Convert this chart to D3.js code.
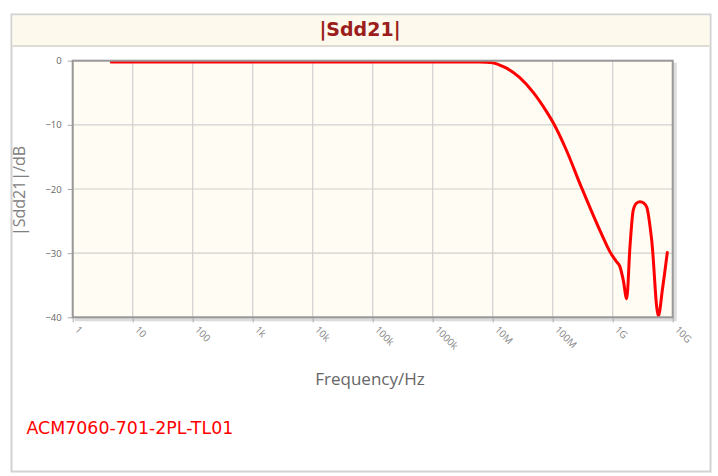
<!DOCTYPE html>
<html><head><meta charset="utf-8">
<script src="https://cdn.jsdelivr.net/npm/d3@7"></script>
<style>
html,body{margin:0;padding:0;background:#fff;}
svg{display:block;}
</style></head>
<body>
<svg id="chart" width="718" height="476"></svg>
<script>
// ---- data ----
const freqHz = [4.4, 10, 100, 1e3, 1e4, 1e5, 1e6, 3e6, 6e6, 1e7, 1.25e7, 1.7e7, 2.8e7, 4.7e7, 7.85e7, 1.01e8,
  1.7e8, 2.85e8, 4.5e8, 6.5e8, 9e8, 1.15e9, 1.32e9, 1.5e9, 1.71e9, 1.94e9, 2.2e9, 2.5e9, 2.85e9, 3.3e9,
  3.69e9, 4.47e9, 5.75e9, 6.8e9, 8.13e9];
const sdd21dB = [-0.2, -0.2, -0.2, -0.2, -0.2, -0.2, -0.2, -0.2, -0.22, -0.33, -0.6, -1.15, -2.6, -4.9, -7.9, -9.6,
  -14.0, -19.2, -23.6, -27.0, -29.8, -31.3, -32.1, -34.2, -37.1, -29, -23.3, -22.2, -22, -22.2,
  -22.8, -28, -39.8, -35.4, -29.9];
const xTickValues = [1, 10, 100, 1e3, 1e4, 1e5, 1e6, 1e7, 1e8, 1e9, 1e10];
const xTickLabels = ["1", "10", "100", "1k", "10k", "100k", "1000k", "10M", "100M", "1G", "10G"];
const yTickValues = [0, -10, -20, -30, -40];
const chartTitle = "|Sdd21|";
const xTitle = "Frequency/Hz";
const yTitle = "|Sdd21|/dB";
const seriesName = "ACM7060-701-2PL-TL01";

// ---- layout ----
const svg = d3.select("#chart");
const L = 72.7, R = 672.7, T = 60.7, B = 317.3;

// outer panel
svg.append("rect").attr("x", 11.5).attr("y", 14.5).attr("width", 699).attr("height", 457)
  .attr("fill", "#fff").attr("stroke", "#d2d2d2").attr("stroke-width", 2);
// title band
svg.append("rect").attr("x", 12.5).attr("y", 15.5).attr("width", 697).attr("height", 30)
  .attr("fill", "#fdf9ec");
svg.append("line").attr("x1", 12.5).attr("x2", 709.5).attr("y1", 46).attr("y2", 46)
  .attr("stroke", "#dedbd2").attr("stroke-width", 2);
svg.append("text").attr("x", 360).attr("y", 36).attr("text-anchor", "middle")
  .attr("font-family", "DejaVu Sans").attr("font-weight", "bold").attr("font-size", 19)
  .attr("fill", "#9b1d1d").text(chartTitle);

const x = d3.scaleLog().domain([1, 1e10]).range([L, R]);
const y = d3.scaleLinear().domain([-40, 0]).range([B, T]);

// plot shadow + background
svg.append("rect").attr("x", L + 2).attr("y", T + 2).attr("width", R - L + 2).attr("height", B - T + 2)
  .attr("fill", "#dcdcdc");
svg.append("rect").attr("x", L).attr("y", T).attr("width", R - L).attr("height", B - T)
  .attr("fill", "#fffcf3");

// grid
const g = svg.append("g");
g.selectAll("line.vg").data(xTickValues).join("line")
  .attr("x1", d => x(d)).attr("x2", d => x(d)).attr("y1", T).attr("y2", B)
  .attr("stroke", "#d0d0d0").attr("stroke-width", 1.2);
g.selectAll("line.hg").data(yTickValues).join("line")
  .attr("x1", L).attr("x2", R).attr("y1", d => y(d)).attr("y2", d => y(d))
  .attr("stroke", "#d0d0d0").attr("stroke-width", 1.2);

// axes
const xAxis = d3.axisBottom(x).tickValues(xTickValues).tickFormat((d, i) => xTickLabels[i]).tickSize(5).tickSizeOuter(0);
const xg = svg.append("g").attr("transform", `translate(0,${B})`).call(xAxis);
xg.select(".domain").remove();
xg.selectAll(".tick line").attr("stroke", "#aaa");
xg.selectAll(".tick text")
  .attr("font-family", "Open Sans").attr("font-size", 10).attr("fill", "#888")
  .attr("text-anchor", "start").attr("y", 0).attr("dy", 0)
  .attr("transform", "translate(1,13) rotate(45)");

const yAxis = d3.axisLeft(y).tickValues(yTickValues).tickFormat(d3.format("d")).tickSize(5).tickSizeOuter(0);
const yg = svg.append("g").attr("transform", `translate(${L},0)`).call(yAxis);
yg.select(".domain").remove();
yg.selectAll(".tick line").attr("stroke", "#aaa");
yg.selectAll(".tick text").attr("font-family", "Open Sans").attr("font-size", 9.5).attr("fill", "#666").attr("x", -11);

// clip + line
svg.append("clipPath").attr("id", "clip").append("rect")
  .attr("x", L).attr("y", T - 1).attr("width", R - L).attr("height", B - T + 2);
const line = d3.line().x(d => x(d[0])).y(d => y(d[1])).curve(d3.curveMonotoneX);
svg.append("path").datum(freqHz.map((f, i) => [f, sdd21dB[i]]))
  .attr("clip-path", "url(#clip)")
  .attr("d", line).attr("fill", "none").attr("stroke", "#ff0000").attr("stroke-width", 3)
  .attr("stroke-linejoin", "round").attr("stroke-linecap", "round");

// plot border
svg.append("rect").attr("x", L).attr("y", T).attr("width", R - L).attr("height", B - T)
  .attr("fill", "none").attr("stroke", "#999").attr("stroke-width", 2);

// axis titles
svg.append("text").attr("x", 370).attr("y", 385).attr("text-anchor", "middle")
  .attr("font-family", "Open Sans").attr("font-size", 17).attr("fill", "#666").text(xTitle);
svg.append("text").attr("transform", "translate(25,191) rotate(-90)").attr("text-anchor", "middle")
  .attr("font-family", "Open Sans").attr("font-size", 16).attr("fill", "#808080").text(yTitle);

// series label
svg.append("text").attr("x", 26.5).attr("y", 434).attr("font-family", "DejaVu Sans").attr("font-size", 17.4)
  .attr("fill", "#ff0000").text(seriesName);
</script>
</body></html>
